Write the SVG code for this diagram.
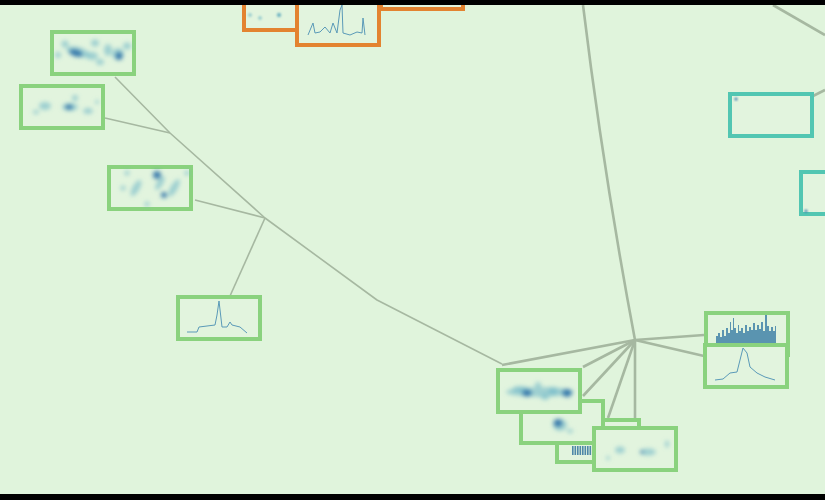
<svg xmlns="http://www.w3.org/2000/svg" width="825" height="500" viewBox="0 0 825 500">
<defs>
<style>
.bg{fill:#e0f4dc}
.ng rect.box{fill:#e2f4de;stroke:#8ad27e;stroke-width:4}
.no rect.box{fill:#e2f4de;stroke:#e38330;stroke-width:4}
.nt rect.box{fill:#e2f4de;stroke:#52c6b2;stroke-width:4}
.e1{fill:none;stroke:#a6b8a1;stroke-width:1.6;stroke-linejoin:round}
.e2{fill:none;stroke:#a6b8a1;stroke-width:2.6;stroke-linejoin:round}
.ln{fill:none;stroke:#5a9ab8;stroke-width:1}
.hl{fill:#6fb8c8;opacity:.6}
.hd{fill:#2f72a8;opacity:.9}
.bar{fill:#4f88a8}
</style>
<filter id="bl" x="-50%" y="-50%" width="200%" height="200%"><feGaussianBlur stdDeviation="2"/></filter>
<filter id="bl2" x="-50%" y="-50%" width="200%" height="200%"><feGaussianBlur stdDeviation="1"/></filter>
</defs>
<rect class="bg" x="0" y="0" width="825" height="500"/>

<g id="connectors">
<polyline class="e1" points="502,364 377,300 265,218 170,133 115,77"/>
<line class="e1" x1="265" y1="218" x2="195" y2="200"/>
<line class="e1" x1="265" y1="218" x2="230" y2="296"/>
<line class="e1" x1="170" y1="133" x2="105" y2="118"/>
<path class="e2" d="M583,5 Q603,170 635,340"/>
<line class="e2" x1="635" y1="340" x2="502" y2="365"/>
<line class="e2" x1="635" y1="340" x2="583" y2="367"/>
<line class="e2" x1="635" y1="340" x2="583" y2="396"/>
<line class="e2" x1="635" y1="340" x2="608" y2="418"/>
<line class="e2" x1="635" y1="340" x2="635" y2="418"/>
<line class="e2" x1="635" y1="340" x2="704" y2="335"/>
<line class="e2" x1="635" y1="340" x2="704" y2="356"/>
<line class="e2" x1="773" y1="5" x2="825" y2="35"/>
<line class="e2" x1="813" y1="96" x2="825" y2="90"/>
</g>

<g id="node-o1" class="no">
<rect class="box" x="244" y="-12" width="82" height="42"/>
<g filter="url(#bl2)"><circle class="hl" cx="250" cy="15" r="2"/><circle class="hl" cx="260" cy="18" r="2"/><circle cx="279" cy="15" r="2.2" fill="#5aa8bc" opacity=".8"/></g>
</g>
<g id="node-o3" class="no">
<rect class="box" x="381" y="-33" width="82" height="42"/>
</g>
<g id="node-o2" class="no">
<rect class="box" x="297" y="3" width="82" height="42"/>
<polyline class="ln" points="308,35 313,23 315,33 320,32 325,27 330,33 333,23 337,33 340,10 342,5 343,33 350,35 357,32 362,33 363,18 365,35"/>
</g>

<g id="node-a" class="ng">
<rect class="box" x="52" y="32" width="82" height="42"/>
<g filter="url(#bl)">
<ellipse class="hl" cx="65" cy="44" rx="3.5" ry="3.5"/>
<ellipse class="hl" cx="58" cy="55" rx="3" ry="3"/>
<ellipse class="hl" cx="78" cy="52" rx="12" ry="5" transform="rotate(15 78 52)"/>
<ellipse class="hd" cx="76" cy="53" rx="7" ry="3.5" transform="rotate(15 76 53)"/>
<ellipse class="hl" cx="95" cy="43" rx="4" ry="3.5"/>
<ellipse class="hl" cx="92" cy="56" rx="6" ry="4"/>
<ellipse class="hl" cx="108" cy="50" rx="4" ry="6"/>
<ellipse class="hl" cx="118" cy="54" rx="6" ry="6"/>
<ellipse class="hd" cx="119" cy="56" rx="3.5" ry="4"/>
<ellipse class="hl" cx="127" cy="46" rx="4" ry="3.5"/>
<ellipse class="hl" cx="100" cy="62" rx="4" ry="3"/>
</g>
</g>
<g id="node-b" class="ng">
<rect class="box" x="21" y="86" width="82" height="42"/>
<g filter="url(#bl)">
<ellipse class="hl" cx="45" cy="106" rx="6" ry="4"/>
<ellipse class="hl" cx="70" cy="107" rx="8" ry="4"/>
<ellipse class="hd" cx="69" cy="107" rx="4" ry="2.5"/>
<ellipse class="hl" cx="75" cy="98" rx="3" ry="3"/>
<ellipse class="hl" cx="88" cy="111" rx="5" ry="3"/>
<ellipse class="hl" cx="97" cy="102" rx="2" ry="2"/>
<ellipse class="hl" cx="36" cy="112" rx="3" ry="2"/>
</g>
</g>
<g id="node-c" class="ng">
<rect class="box" x="109" y="167" width="82" height="42"/>
<g filter="url(#bl)">
<ellipse class="hl" cx="136" cy="188" rx="3.5" ry="9" transform="rotate(30 136 188)"/>
<ellipse class="hl" cx="174" cy="188" rx="3.5" ry="10" transform="rotate(30 174 188)"/>
<ellipse class="hl" cx="160" cy="183" rx="3" ry="8" transform="rotate(30 160 183)"/>
<ellipse class="hd" cx="157" cy="175" rx="4" ry="4"/>
<ellipse class="hd" cx="164" cy="195" rx="3" ry="3"/>
<ellipse class="hl" cx="127" cy="173" rx="2.5" ry="2.5"/>
<ellipse class="hl" cx="187" cy="173" rx="2.5" ry="2.5"/>
<ellipse class="hl" cx="123" cy="188" rx="2.5" ry="2.5"/>
<ellipse class="hl" cx="147" cy="204" rx="2.5" ry="2.5"/>
</g>
</g>
<g id="node-d" class="ng">
<rect class="box" x="178" y="297" width="82" height="42"/>
<polyline class="ln" points="187,332 197,332 199,327 207,326 215,325 217,315 219,301 222,327 227,327 230,322 232,325 240,327 247,333"/>
</g>

<g id="node-g" class="ng">
<rect class="box" x="557" y="420" width="82" height="42"/>
<g class="bar">
<rect x="572" y="446" width="1.6" height="9"/><rect x="574.5" y="446" width="1.6" height="9"/><rect x="577" y="446" width="1.6" height="9"/><rect x="579.5" y="446" width="1.6" height="9"/><rect x="582" y="446" width="1.6" height="9"/><rect x="584.5" y="446" width="1.6" height="9"/><rect x="587" y="446" width="1.6" height="9"/><rect x="589.5" y="446" width="1.6" height="9"/>
</g>
</g>
<g id="node-f" class="ng">
<rect class="box" x="521" y="401" width="82" height="42"/>
<g filter="url(#bl)">
<ellipse class="hl" cx="560" cy="425" rx="7" ry="6"/>
<ellipse class="hd" cx="558" cy="423" rx="4.5" ry="4"/>
<ellipse class="hl" cx="570" cy="431" rx="3" ry="2"/>
</g>
</g>
<g id="node-h" class="ng">
<rect class="box" x="594" y="428" width="82" height="42"/>
<g filter="url(#bl)">
<ellipse class="hl" cx="620" cy="450" rx="5" ry="3.5"/>
<ellipse class="hl" cx="648" cy="452" rx="8" ry="3.5"/>
<ellipse class="hd" cx="642" cy="452" rx="1.8" ry="1.8"/>
<ellipse class="hl" cx="667" cy="444" rx="2" ry="3.5"/>
<ellipse class="hl" cx="608" cy="458" rx="2" ry="2"/>
</g>
</g>
<g id="node-e" class="ng">
<rect class="box" x="498" y="370" width="82" height="42"/>
<g filter="url(#bl)">
<ellipse class="hl" cx="540" cy="392" rx="34" ry="5"/>
<ellipse class="hl" cx="520" cy="389" rx="8" ry="3"/>
<ellipse class="hd" cx="527" cy="393" rx="5" ry="3.5"/>
<ellipse class="hd" cx="567" cy="393" rx="5" ry="4"/>
<ellipse class="hl" cx="553" cy="391" rx="5" ry="4"/>
<ellipse class="hl" cx="545" cy="397" rx="4" ry="3"/>
<ellipse class="hl" cx="538" cy="385" rx="3" ry="3"/>
</g>
</g>

<g id="node-i" class="ng">
<rect class="box" x="706" y="313" width="82" height="42"/>
<polyline fill="#5a94b0" points="716,343 716,336 718,336 718,333 720,333 720,337 722,337 722,330 724,330 724,336 726,336 726,328 728,328 728,333 730,333 730,322 731,322 731,330 733,330 733,318 734,318 734,328 736,328 736,333 738,333 738,325 739,325 739,331 741,331 741,328 743,328 743,333 745,333 745,325 747,325 747,331 749,331 749,327 751,327 751,330 753,330 753,323 755,323 755,330 757,330 757,325 759,325 759,329 761,329 761,322 763,322 763,331 765,331 765,315 767,315 767,326 769,326 769,331 771,331 771,327 773,327 773,331 775,331 775,326 776,326 776,343"/>
</g>
<g id="node-j" class="ng">
<rect class="box" x="705" y="345" width="82" height="42"/>
<polyline class="ln" points="715,380 723,379 730,373 737,372 742,352 743,348 747,353 750,367 757,373 765,377 775,380"/>
</g>

<g id="node-k" class="nt">
<rect class="box" x="730" y="94" width="82" height="42"/>
<circle cx="736" cy="99" r="1.5" fill="#3a78ae" filter="url(#bl2)"/>
</g>
<g id="node-l" class="nt">
<rect class="box" x="801" y="172" width="82" height="42"/>
<circle cx="806" cy="211" r="1.5" fill="#3a78ae" filter="url(#bl2)"/>
</g>

<rect x="0" y="0" width="825" height="5" fill="#000"/>
<rect x="0" y="494" width="825" height="6" fill="#000"/>
</svg>
